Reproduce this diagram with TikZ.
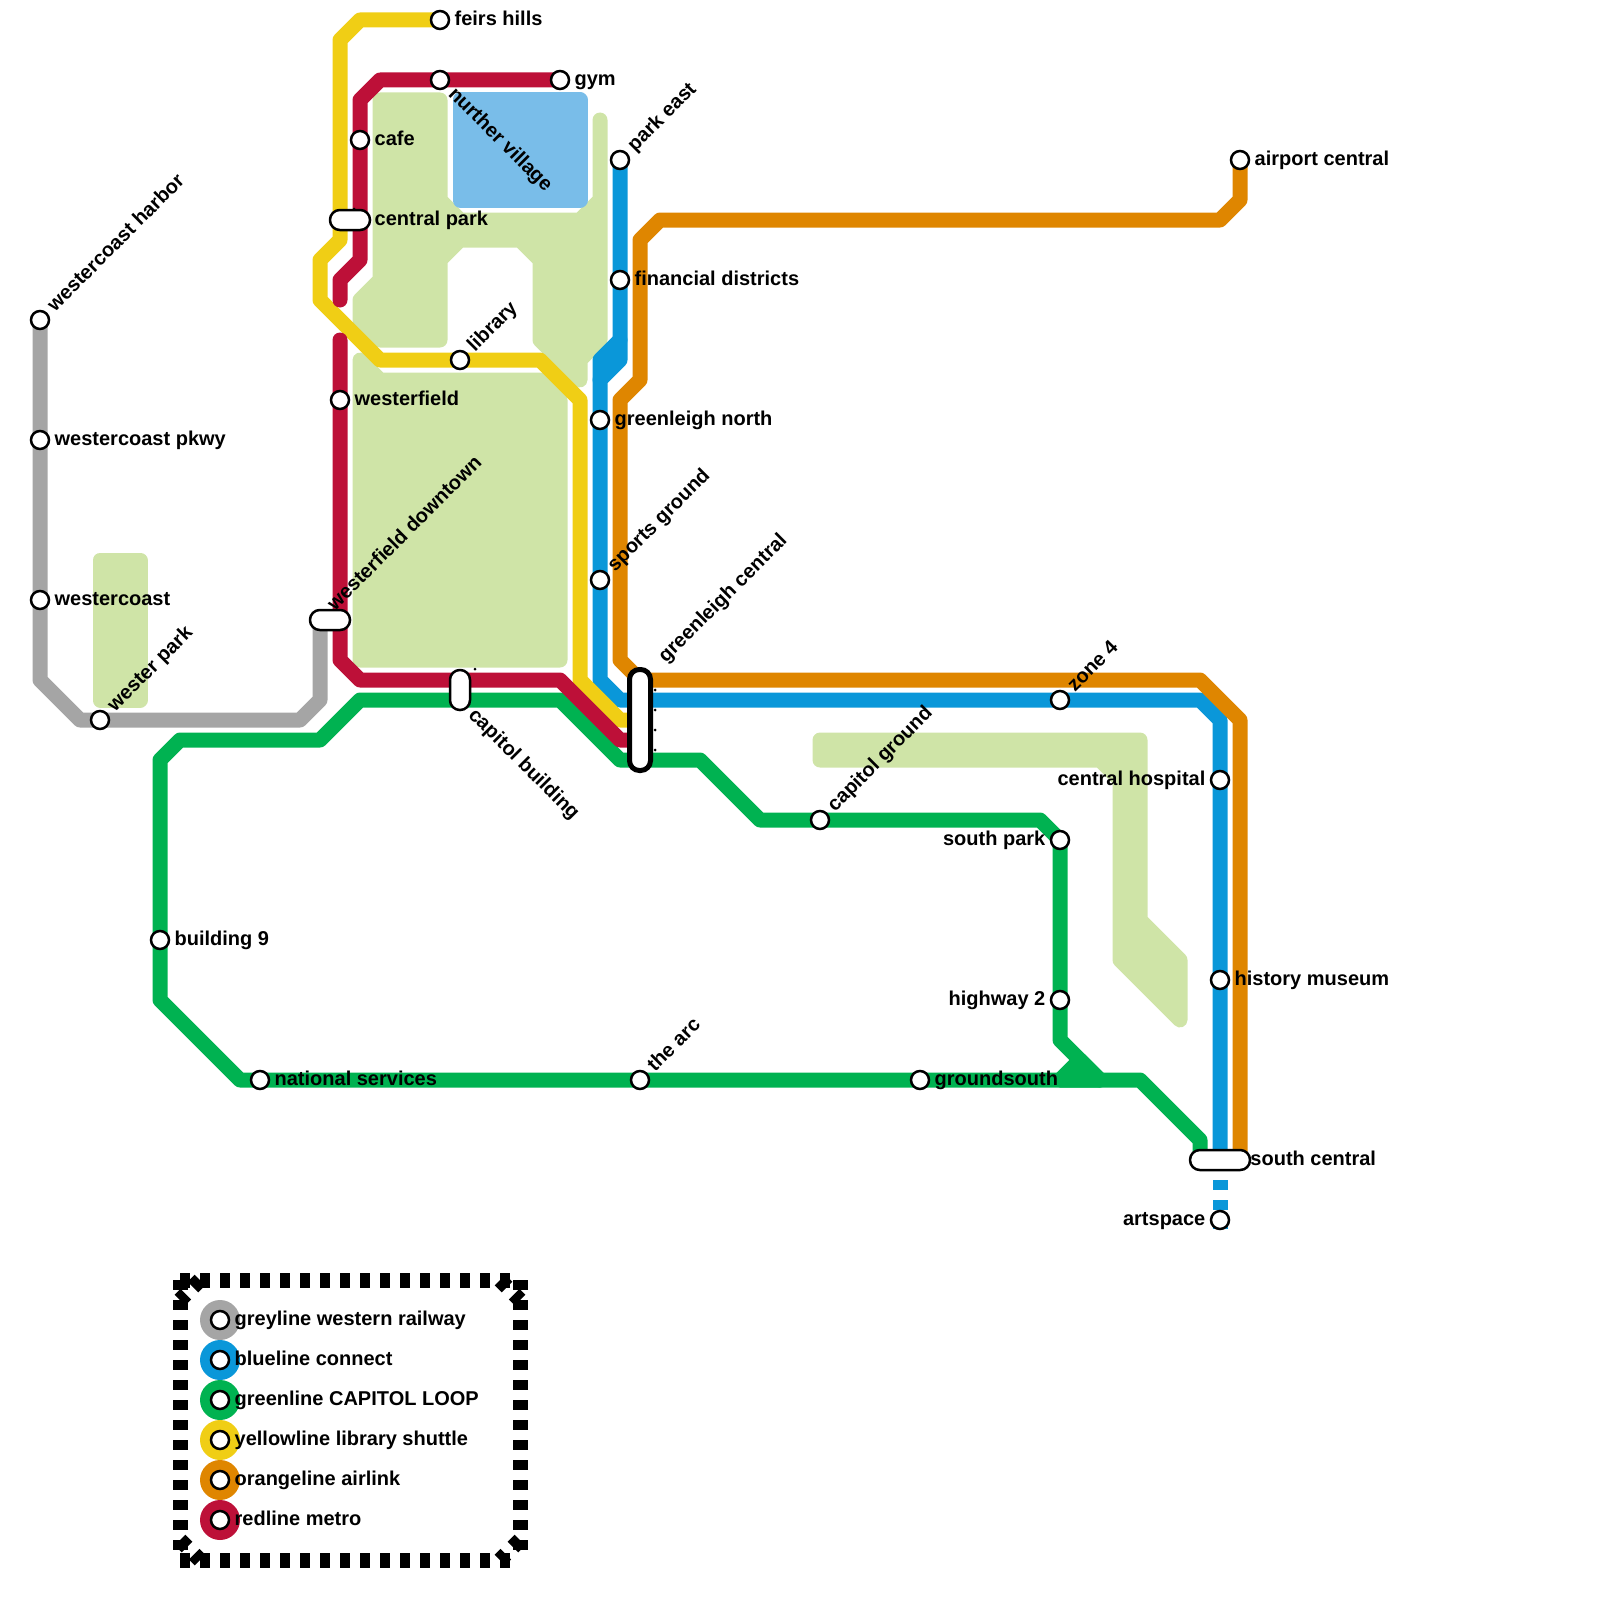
\documentclass[tikz,border=0pt]{standalone}
\usepackage{xcolor}
\usepackage{fontspec}
\setmainfont{Liberation Sans}
\usepackage{tikz}
\usetikzlibrary{positioning, calc, backgrounds}
\definecolor{greyline}{HTML}{A5A5A5}
\definecolor{blueline}{HTML}{0A97D9}
\definecolor{greenline}{HTML}{00B251}
\definecolor{yellowline}{HTML}{F0CE15}
\definecolor{orangeline}{HTML}{DF8600}
\definecolor{redline}{HTML}{BD1038}
\definecolor{parkgreen}{HTML}{CFE4A7}
\definecolor{waterblue}{HTML}{79BDE9}
\tikzset{
  route/.style={line width=7.5pt, line join=round, line cap=round},
  area/.style={line width=7.5pt, line join=round},
  station/.style={circle, draw=black, fill=white, line width=1.25pt, minimum size=9pt, inner sep=0pt},
  pill/.style={rectangle, rounded corners=4.9pt, draw=black, fill=white, line width=1.25pt, inner sep=0pt},
  lbl/.style={font=\bfseries\fontsize{10}{12}\selectfont, inner sep=0pt},
  uplbl/.style={lbl, rotate=45, anchor=mid west},
  downlbl/.style={lbl, rotate=-45, anchor=mid west},
  rlbl/.style={lbl, anchor=mid west, yshift=0.1pt},
  llbl/.style={lbl, anchor=mid east, yshift=0.1pt},
  frameline/.style={line width=7.5pt, dash pattern=on 5pt off 5pt, black},
  speck/.style={circle, fill=black, inner sep=0pt, minimum size=1.5pt},
}
\begin{document}
\begin{tikzpicture}[x=0.5pt, y=-0.5pt]
    \useasboundingbox (0,0) rectangle (1600,1600);

    % stations
    \node[station] (harbor) at (40,320) {};
    \node[station] (pkwy) at (40,440) {};
    \node[station] (westercoast) at (40,600) {};
    \node[station] (westerpark) at (100,720) {};
    \node[station] (feirs) at (440,20) {};
    \node[station] (nurther) at (440,80) {};
    \node[station] (gym) at (560,80) {};
    \node[station] (cafe) at (360,140) {};
    \node[station] (library) at (460,360) {};
    \node[station] (westerfield) at (340,400) {};
    \node[station] (parkeast) at (620,160) {};
    \node[station] (financial) at (620,280) {};
    \node[station] (glnorth) at (600,420) {};
    \node[station] (sports) at (600,580) {};
    \node[station] (airport) at (1240,160) {};
    \node[station] (capground) at (820,820) {};
    \node[station] (zonefour) at (1060,700) {};
    \node[station] (hospital) at (1220,780) {};
    \node[station] (southpark) at (1060,840) {};
    \node[station] (highway) at (1060,1000) {};
    \node[station] (museum) at (1220,980) {};
    \node[station] (arc) at (640,1080) {};
    \node[station] (groundsouth) at (920,1080) {};
    \node[station] (national) at (260,1080) {};
    \node[station] (buildingnine) at (160,940) {};
    \node[station] (artspace) at (1220,1220) {};
    \node[pill, minimum width=20pt, minimum height=10pt] (centralpark) at (350,220) {};
    \node[pill, minimum width=20pt, minimum height=10pt] (downtown) at (330,620) {};
    \node[pill, minimum width=10pt, minimum height=20pt] (capitol) at (460,690) {};
    \node[pill, minimum width=30pt, minimum height=10pt] (southcentral) at (1220,1160) {};
    \node[pill, line width=2.5pt, minimum width=10.5pt, minimum height=50.5pt] (glcentral) at (640,720) {};

    \begin{pgfonlayer}{background}
      % parks
      \draw[area, draw=parkgreen, fill=parkgreen] (100,560) rectangle (140,700);
      \draw[area, draw=parkgreen, fill=parkgreen] (380,100) -- (440,100) -- (440,200) -- (460,220) -- (580,220) -- (600,200) -- (600,120) -- (600,340) -- (580,360) -- (580,380) -- (540,340) -- (540,260) -- (520,240) -- (460,240) -- (440,260) -- (440,340) -- (380,340) -- (360,320) -- (360,300) -- (380,280) -- cycle;
      \draw[area, draw=parkgreen, fill=parkgreen] (360,360) -- (380,380) -- (540,380) -- (560,400) -- (560,660) -- (360,660) -- cycle;
      \draw[area, draw=parkgreen, fill=parkgreen] (820,740) -- (1140,740) -- (1140,920) -- (1180,960) -- (1180,1020) -- (1120,960) -- (1120,780) -- (1100,760) -- (820,760) -- cycle;
      \draw[area, draw=waterblue, fill=waterblue] (460,100) rectangle (580,200);

      % lines
      \draw[route, greyline] (harbor.center) -- (40,680) -- (80,720) -- (300,720) -- (320,700) -- ([xshift=-5pt]downtown.center);
      \draw[route, blueline] (parkeast.center) -- (620,360) -- (600,380) -- (600,680) -- (620,700) -- (1200,700) -- (1220,720) -- (southcentral.center);
      \draw[route, blueline] (620,340) -- (600,360) -- (600,380);
      \draw[line width=7.5pt, blueline, dash pattern=on 5pt off 5pt] (southcentral.center) -- ([yshift=-4.5pt]artspace.center);
      \draw[route, greenline] (buildingnine.center) -- (160,760) -- (180,740) -- (320,740) -- (360,700) -- (560,700) -- (620,760) -- (700,760) -- (760,820) -- (1040,820) -- (1060,840) -- (1060,1040) -- (1100,1080);
      \draw[route, greenline] (buildingnine.center) -- (160,1000) -- (240,1080) -- (1140,1080) -- (1200,1140) -- (1200,1160);
      \draw[route, greenline, fill=greenline] (1060,1080) -- (1080,1060) -- (1100,1080) -- cycle;
      \draw[route, yellowline] (feirs.center) -- (360,20) -- (340,40) -- (340,240) -- (320,260) -- (320,300) -- (380,360) -- (540,360) -- (580,400) -- (580,680) -- (620,720) -- (640,720);
      \draw[route, orangeline] (airport.center) -- (1240,200) -- (1220,220) -- (660,220) -- (640,240) -- (640,380) -- (620,400) -- (620,660) -- (640,680) -- (1200,680) -- (1240,720) -- (1240,1160);
      \draw[route, redline] (gym.center) -- (380,80) -- (360,100) -- (360,260) -- (340,280) -- (340,300);
      \draw[route, redline] (340,340) -- (340,660) -- (360,680) -- (560,680) -- (620,740) -- (640,740);
    \end{pgfonlayer}

    % labels
    \node[uplbl] (harborlbl) at ([shift={(5.5pt,5.5pt)}]harbor.center) {westercoast harbor};
    \node[right=2pt of pkwy, rlbl] (pkwylbl) {westercoast pkwy};
    \node[right=2pt of westercoast, rlbl] (westercoastlbl) {westercoast};
    \node[uplbl] (westerparklbl) at ([shift={(5.5pt,5.5pt)}]westerpark.center) {wester park};
    \node[right=2pt of feirs, rlbl] (feirslbl) {feirs hills};
    \node[downlbl] (nurtherlbl) at ([shift={(5.5pt,-5.5pt)}]nurther.center) {nurther village};
    \node[right=2pt of gym, rlbl] (gymlbl) {gym};
    \node[right=2pt of cafe, rlbl] (cafelbl) {cafe};
    \node[right=1.5pt of centralpark, rlbl] (centralparklbl) {central park};
    \node[uplbl] (librarylbl) at ([shift={(5.5pt,5.5pt)}]library.center) {library};
    \node[right=2pt of westerfield, rlbl] (westerfieldlbl) {westerfield};
    \node[uplbl] (downtownlbl) at ([shift={(0.5pt,6pt)}]downtown.center) {westerfield downtown};
    \node[downlbl] (capitollbl) at ([shift={(5.5pt,-11pt)}]capitol.center) {capitol building};
    \node[uplbl] (parkeastlbl) at ([shift={(5.5pt,5.5pt)}]parkeast.center) {park east};
    \node[right=2pt of financial, rlbl] (financiallbl) {financial districts};
    \node[right=2pt of glnorth, rlbl] (glnorthlbl) {greenleigh north};
    \node[uplbl] (sportslbl) at ([shift={(5.5pt,5.5pt)}]sports.center) {sports ground};
    \node[uplbl] (glcentrallbl) at ([shift={(11pt,30pt)}]glcentral.center) {greenleigh central};
    \node[right=2pt of airport, rlbl] (airportlbl) {airport central};
    \node[uplbl] (capgroundlbl) at ([shift={(5.5pt,5.5pt)}]capground.center) {capitol ground};
    \node[uplbl] (zonefourlbl) at ([shift={(5.5pt,5.5pt)}]zonefour.center) {zone 4};
    \node[left=2pt of hospital, llbl] (hospitallbl) {central hospital};
    \node[left=2pt of southpark, llbl] (southparklbl) {south park};
    \node[left=2pt of highway, llbl] (highwaylbl) {highway 2};
    \node[right=2pt of museum, rlbl] (museumlbl) {history museum};
    \node[uplbl] (arclbl) at ([shift={(5.5pt,5.5pt)}]arc.center) {the arc};
    \node[right=2pt of groundsouth, rlbl] (groundsouthlbl) {groundsouth};
    \node[right=2pt of national, rlbl] (nationallbl) {national services};
    \node[right=2pt of buildingnine, rlbl] (buildingninelbl) {building 9};
    \node[right=-0.6pt of southcentral, rlbl] (southcentrallbl) {south central};
    \node[left=2pt of artspace, llbl] (artspacelbl) {artspace};

    % specks beside the interchanges
    \foreach \y in {690,710,730,750}
      \node[speck] (speck\y) at (655,\y) {};
    \node[speck] (speckcapitol) at (475,669) {};
    \node[speck] (speckpark) at (354,209) {};

    % key
    \draw[frameline] (180,1280) -- (510,1280);
    \draw[frameline] (180,1560) -- (510,1560);
    \draw[frameline] (180,1280) -- (180,1550);
    \draw[frameline] (520,1280) -- (520,1550);
    \draw[frameline] (200,1280) -- (180,1300);
    \draw[frameline] (500,1280) -- (520,1300);
    \draw[frameline] (180,1540) -- (200,1560);
    \draw[frameline] (520,1540) -- (500,1560);
    \foreach \i/\c/\t in {0/greyline/greyline western railway, 1/blueline/blueline connect, 2/greenline/greenline CAPITOL LOOP, 3/yellowline/yellowline library shuttle, 4/orangeline/orangeline airlink, 5/redline/redline metro}{
      \node[circle, fill=\c, inner sep=0pt, minimum size=20pt] (key\i) at (220,{1320+40*\i}) {};
      \node[station] (keystop\i) at (key\i) {};
      \node[right=2pt of keystop\i, rlbl] (keylbl\i) {\t};
    }
  \end{tikzpicture}
\end{document}
